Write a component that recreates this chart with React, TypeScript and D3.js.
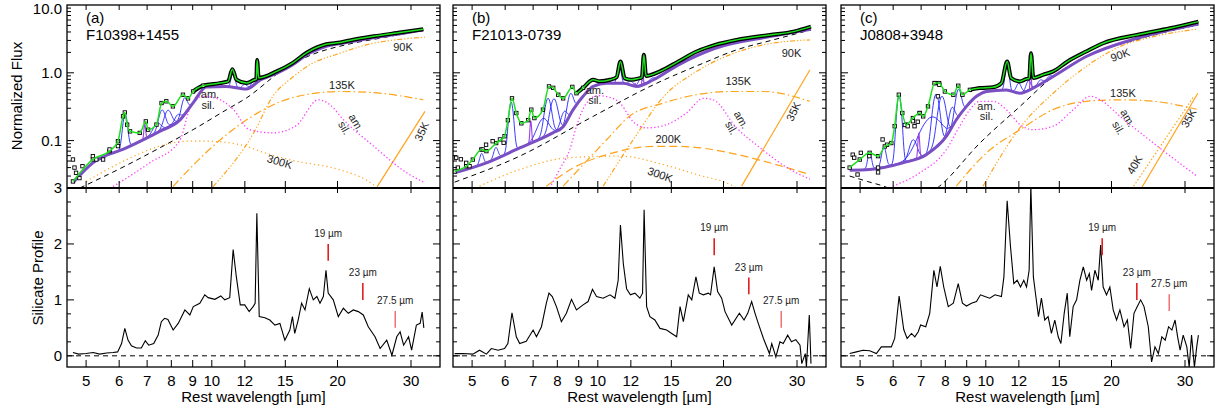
import React from "react";
import * as d3 from "d3";

type Pt = [number, number];
type Pah = [number, number, number]; // centre, fwhm, height above continuum

// ---------- (a) F10398+1455 ----------
const specA: Pt[] = [[4.65,0.025],[5.19,0.053],[5.69,0.07],[5.96,0.098],[6.13,0.228],[6.19,0.26],[6.27,0.172],[6.37,0.137],[6.72,0.13],[6.95,0.192],[7.04,0.145],[7.37,0.172],[7.58,0.358],[7.78,0.38],[8.07,0.32],[8.53,0.475],[8.77,0.42],[9.02,0.53],[9.53,0.644],[10.45,0.705],[10.94,0.745],[11.2,1.13],[11.46,0.79],[12.1,0.705],[12.68,0.79],[12.78,0.8],[12.84,1.55],[12.95,0.84],[14.3,1.05],[15.6,1.39],[16.9,1.99],[18.8,2.64],[20.3,2.8],[21.4,3.0],[24.4,3.45],[28.5,3.95],[32.1,4.4]];
const contA: Pt[] = [[4.65,0.024],[5.19,0.047],[6.24,0.078],[7.5,0.137],[8.38,0.2],[9.02,0.36],[9.7,0.62],[10.8,0.63],[12.1,0.575],[13.1,0.79],[14.3,0.98],[15.6,1.3],[16.9,1.85],[18.8,2.45],[21.4,2.85],[24.4,3.3],[28.5,3.8],[32.1,4.3]];
const dashA: Pt[] = [[4.83,0.02],[6.24,0.043],[7.5,0.078],[9.02,0.145],[10.85,0.286],[12.1,0.425],[14.8,1.1],[17,1.75],[21.0,2.6],[25,3.2],[32.1,4.2]];
const k90A: Pt[] = [[10.07,0.021],[12.6,0.13],[14.0,0.45],[15.7,0.88],[16.9,1.24],[20.3,1.95],[24.4,2.73],[28,3.1],[32.4,3.35]];
const k135A: Pt[] = [[8.07,0.021],[10.26,0.092],[12.8,0.25],[15.4,0.42],[20.3,0.53],[24.4,0.51],[32.1,0.40]];
const k300A: Pt[] = [[5.0,0.025],[6.24,0.052],[7.5,0.083],[8.7,0.098],[9.7,0.098],[11.67,0.087],[13.5,0.065],[15.4,0.052],[20.3,0.037],[23.5,0.026],[25,0.02]];
const k35A: Pt[] = [[24.9,0.021],[32.4,0.27]];
const silA: Pt[] = [[5.8,0.021],[7.1,0.047],[8.38,0.1],[8.85,0.29],[9.53,0.45],[10.26,0.42],[11.25,0.29],[12.3,0.145],[14.0,0.13],[15.9,0.165],[18.0,0.4],[19.5,0.31],[20.3,0.23],[24.4,0.083],[29.3,0.0335],[32.1,0.0245]];
const pahA: Pah[] = [[5.27,0.12,0.006],[5.7,0.15,0.01],[6.2,0.17,0.17],[7.4,0.35,0.05],[7.6,0.3,0.14],[7.85,0.35,0.12],[8.3,0.3,0.05],[8.6,0.3,0.18],[11.25,0.25,0.45],[12.0,0.35,0.1],[12.65,0.35,0.14],[13.5,0.4,0.06]];
const lineA: Pt[] = [[6.91,0.07],[12.81,0.8]];
const scatA: Pt[] = [[4.65,0.0526],[4.69,0.04],[4.73,0.0335],[4.82,0.028],[4.9,0.042],[5.19,0.059],[5.29,0.0526],[5.49,0.0526],[5.69,0.074],[5.96,0.083]];
const profA: Pt[] = [[4.65,0.06],[4.8,0.03],[5.0,0.04],[5.2,0.06],[5.39,0.03],[5.6,0.05],[5.8,0.06],[5.95,0.07],[6.08,0.22],[6.19,0.49],[6.3,0.28],[6.42,0.18],[6.6,0.14],[6.78,0.14],[6.93,0.27],[7.06,0.19],[7.26,0.22],[7.44,0.37],[7.57,0.61],[7.71,0.67],[7.85,0.65],[8.08,0.46],[8.31,0.58],[8.62,0.82],[8.86,0.73],[9.03,0.88],[9.36,0.94],[9.62,1.09],[9.8,1.04],[10.17,1.01],[10.51,1.07],[10.74,1.0],[11.04,1.04],[11.25,1.9],[11.45,1.41],[11.7,0.91],[11.99,0.91],[12.29,0.79],[12.56,0.88],[12.7,0.94],[12.82,2.55],[12.99,0.7],[13.4,0.68],[13.77,0.64],[14.16,0.55],[14.56,0.58],[14.96,0.28],[15.38,0.46],[15.6,0.7],[15.8,0.4],[16.1,0.64],[16.41,0.94],[16.72,0.82],[17.12,1.2],[17.5,1.0],[17.85,1.06],[18.16,0.94],[18.5,1.06],[18.77,1.53],[19.0,1.12],[19.54,1.0],[20.09,0.7],[20.66,0.85],[21.23,0.76],[21.82,0.82],[22.43,0.79],[23.06,0.73],[23.7,0.52],[24.6,0.34],[25.3,0.13],[26.24,0.28],[27.0,0.01],[27.73,0.34],[28.25,0.43],[28.8,0.19],[29.6,0.34],[30.1,0.1],[30.9,0.55],[31.55,0.58],[31.9,0.78],[32.2,0.5]];
const markA: Pt[] = [[19,1.7],[23,1.0],[27.5,0.5]];

// ---------- (b) F21013-0739 ----------
const specB: Pt[] = [[4.54,0.035],[4.84,0.042],[5.02,0.0525],[5.26,0.074],[5.41,0.07],[5.71,0.092],[5.98,0.116],[6.09,0.2],[6.23,0.42],[6.38,0.255],[6.56,0.18],[6.81,0.2],[6.93,0.286],[7.05,0.215],[7.39,0.286],[7.64,0.63],[7.82,0.6],[8.04,0.475],[8.26,0.42],[8.69,0.62],[8.89,0.5],[9.22,0.6],[9.75,0.79],[10.1,0.75],[10.7,0.79],[11.09,0.86],[11.33,1.47],[11.6,0.83],[12.05,0.79],[12.61,0.835],[12.75,0.85],[12.89,1.84],[13.05,0.9],[14.09,1.05],[15.6,1.47],[17.26,2.06],[19.1,2.58],[21.5,3.06],[25.8,3.62],[29.4,4.05],[32.4,4.8]];
const contB: Pt[] = [[4.54,0.0335],[5.41,0.047],[6.5,0.078],[7.8,0.13],[8.26,0.16],[8.73,0.286],[9.22,0.45],[9.75,0.63],[10.5,0.7],[11.5,0.7],[12.4,0.63],[13.6,0.79],[15.6,1.31],[19.1,2.3],[25.8,3.42],[32.4,4.39]];
const dashB: Pt[] = [[4.54,0.0244],[6.5,0.059],[9.75,0.228],[13.6,0.667],[17.9,1.39],[21.5,2.18],[26,3.0],[32.4,4.3]];
const k90B: Pt[] = [[10.3,0.0213],[12.16,0.103],[14.4,0.45],[17.25,1.05],[20.7,1.84],[24.9,2.58],[32.2,3.06]];
const k135B: Pt[] = [[8.26,0.0213],[10.5,0.103],[11.9,0.228],[14.35,0.358],[17.25,0.475],[20.7,0.53],[24.9,0.53],[32.2,0.38]];
const k200B: Pt[] = [[7.53,0.0213],[8.89,0.042],[10.5,0.062],[13.6,0.082],[15.7,0.082],[20.7,0.066],[24.9,0.05],[32.2,0.0316]];
const k300B: Pt[] = [[5.21,0.0213],[6.5,0.0375],[8.55,0.056],[11.3,0.059],[14.6,0.043],[17.25,0.0316],[20.7,0.0226],[21.5,0.02]];
const k35B: Pt[] = [[22.1,0.0213],[32.2,1.1]];
const silB: Pt[] = [[7.67,0.02],[8.1,0.0375],[8.57,0.074],[8.89,0.163],[9.4,0.358],[10.0,0.46],[10.6,0.44],[11.3,0.358],[12.16,0.19],[13.1,0.154],[14.6,0.172],[16.3,0.255],[17.9,0.42],[18.9,0.4],[21.5,0.154],[24.5,0.078],[28.4,0.04],[32.2,0.027]];
const pahB: Pah[] = [[5.27,0.12,0.02],[5.7,0.15,0.025],[6.2,0.17,0.3],[7.4,0.5,0.1],[7.6,0.3,0.3],[7.85,0.35,0.28],[8.3,0.3,0.1],[8.6,0.3,0.25],[11.25,0.25,0.65],[12.0,0.35,0.1],[12.65,0.35,0.15],[13.5,0.4,0.06]];
const lineB: Pt[] = [[6.91,0.1],[12.28,0.06],[12.81,1.0]];
const scatB: Pt[] = [[4.58,0.056],[4.7,0.053],[4.84,0.047],[4.93,0.042],[4.62,0.04],[5.3,0.074],[5.4,0.087],[5.6,0.098],[5.83,0.104],[5.95,0.093]];
const profB: Pt[] = [[4.54,0.04],[4.75,0.04],[5.02,0.03],[5.21,0.1],[5.41,0.03],[5.56,0.13],[5.77,0.1],[5.98,0.13],[6.09,0.22],[6.23,0.77],[6.38,0.34],[6.5,0.22],[6.74,0.26],[7.0,0.46],[7.13,0.34],[7.33,0.52],[7.53,0.94],[7.64,1.12],[7.78,1.06],[7.96,0.88],[8.18,0.61],[8.41,0.76],[8.65,1.01],[8.89,0.82],[9.22,0.91],[9.48,0.97],[9.71,1.19],[9.93,1.06],[10.3,1.03],[10.7,1.09],[10.99,1.03],[11.19,1.35],[11.33,2.34],[11.51,1.65],[11.72,1.2],[11.97,1.09],[12.27,1.12],[12.61,1.03],[12.8,1.12],[12.91,2.61],[13.09,0.88],[13.33,0.7],[13.7,0.64],[14.09,0.49],[14.62,0.46],[15.03,0.4],[15.45,0.34],[15.74,0.88],[16.03,0.61],[16.47,1.09],[16.79,1.0],[17.18,1.41],[17.5,1.12],[17.9,1.09],[18.4,1.12],[18.62,1.09],[19.0,1.59],[19.36,1.15],[19.8,1.03],[20.17,0.79],[20.93,0.55],[21.83,0.76],[22.4,0.64],[22.86,0.76],[23.36,0.97],[23.8,0.76],[24.23,0.58],[24.93,0.31],[25.77,0.04],[26.1,0.22],[26.7,-0.02],[27.3,0.25],[27.8,0.22],[28.5,0.37],[29.1,0.25],[29.8,0.29],[30.5,0.19],[30.8,-0.14],[31.4,0.04],[31.6,-0.2],[32.1,0.73],[32.4,-0.14]];
const markB: Pt[] = [[19,1.8],[23,1.1],[27.5,0.5]];

// ---------- (c) J0808+3948 ----------
const specC: Pt[] = [[4.72,0.04],[4.99,0.0526],[5.27,0.066],[5.52,0.059],[5.73,0.082],[5.94,0.092],[6.05,0.163],[6.19,0.475],[6.31,0.255],[6.45,0.172],[6.69,0.215],[6.95,0.255],[7.08,0.228],[7.27,0.32],[7.55,0.705],[7.73,0.705],[7.98,0.53],[8.36,0.475],[8.59,0.644],[8.79,0.475],[9.16,0.56],[9.68,0.595],[10.4,0.61],[10.9,0.705],[11.25,1.47],[11.5,0.835],[12.08,0.746],[12.5,0.81],[12.7,0.82],[12.83,1.95],[13.0,0.84],[13.7,0.935],[14.5,1.05],[15.7,1.47],[17.4,2.06],[19.1,2.73],[23.0,3.62],[27.6,4.53],[32.3,5.69]];
const contC: Pt[] = [[4.72,0.0366],[5.27,0.0375],[6.33,0.047],[7.2,0.062],[8.05,0.116],[8.5,0.203],[8.99,0.32],[9.5,0.45],[10.04,0.53],[11.2,0.56],[12.08,0.5],[13.2,0.63],[14.5,0.88],[17.4,1.74],[23.0,3.23],[32.3,5.26]];
const dashC: Pt[] = [[4.72,0.03],[5.2,0.025],[5.78,0.0205],[6.7,0.012],[7.75,0.0213],[9.68,0.092],[12.08,0.32],[14.5,0.88],[17.4,1.74],[23,3.1],[32.3,5.1]];
const k90C: Pt[] = [[9.85,0.0213],[12.06,0.154],[14.5,0.5],[17.4,1.24],[20.96,2.44],[25.2,3.42],[32.0,4.39]];
const k135C: Pt[] = [[8.5,0.0213],[10.04,0.066],[12.08,0.145],[14.5,0.286],[17.4,0.38],[20.96,0.4],[25.2,0.38],[32.0,0.29]];
const k35C: Pt[] = [[23.6,0.02],[32.2,0.5]];
const k40C: Pt[] = [[22.6,0.0213],[31.5,0.45]];
const silC: Pt[] = [[5.99,0.0213],[6.95,0.0335],[8.05,0.074],[8.66,0.163],[9.16,0.286],[9.68,0.38],[10.4,0.38],[11.2,0.286],[12.08,0.172],[13.0,0.145],[14.5,0.163],[16.2,0.286],[17.8,0.45],[18.8,0.4],[20.96,0.228],[25.2,0.092],[32.0,0.03]];
const pahC: Pah[] = [[5.27,0.12,0.03],[5.7,0.15,0.04],[6.2,0.17,0.42],[6.7,0.3,0.05],[7.4,0.9,0.15],[7.6,0.3,0.4],[7.85,0.35,0.35],[8.3,0.3,0.15],[8.6,0.3,0.35],[11.25,0.25,0.85],[12.0,0.35,0.2],[12.65,0.35,0.2],[13.5,0.4,0.1],[14.2,0.4,0.08]];
const lineC: Pt[] = [[6.91,0.07],[12.81,1.3]];
const scatC: Pt[] = [[4.8,0.062],[4.84,0.056],[5.02,0.066],[4.93,0.0316],[5.26,0.059],[5.52,0.04],[5.66,0.104],[5.8,0.087],[5.52,0.034],[6.4,0.17],[6.5,0.163],[6.69,0.193],[6.75,0.163],[6.87,0.19],[6.94,0.255],[7.54,0.705],[7.68,0.45],[7.74,0.665]];
const profC: Pt[] = [[4.72,0.04],[4.9,0.07],[5.08,0.1],[5.27,0.09],[5.47,0.04],[5.62,0.16],[5.78,0.16],[5.94,0.16],[6.05,0.31],[6.2,1.07],[6.36,0.47],[6.48,0.31],[6.64,0.4],[6.76,0.34],[6.89,0.43],[6.98,0.55],[7.18,0.52],[7.34,0.76],[7.51,1.53],[7.64,1.23],[7.78,1.6],[7.93,1.23],[8.13,0.88],[8.36,0.94],[8.59,1.29],[8.79,0.94],[8.99,0.89],[9.24,0.94],[9.5,0.97],[9.71,1.09],[9.95,1.06],[10.22,1.03],[10.52,1.09],[10.9,1.06],[11.05,1.41],[11.25,2.77],[11.46,1.95],[11.67,1.29],[11.89,1.35],[12.11,1.23],[12.33,1.35],[12.52,1.23],[12.7,1.53],[12.82,3.05],[13.0,1.41],[13.18,1.06],[13.37,0.7],[13.59,1.03],[13.84,0.64],[14.1,0.7],[14.36,0.4],[14.63,0.64],[14.91,0.34],[15.13,0.22],[15.41,0.76],[15.67,1.12],[15.89,0.34],[16.19,0.88],[16.5,1.0],[16.8,1.35],[17.12,1.59],[17.44,1.35],[17.7,1.47],[17.92,1.17],[18.25,1.53],[18.59,1.35],[18.84,1.98],[19.1,1.23],[19.46,1.09],[19.82,1.23],[20.19,0.82],[20.57,0.64],[20.95,0.82],[21.43,0.52],[21.83,0.64],[22.23,0.13],[22.64,0.76],[23.06,0.88],[23.49,1.0],[23.93,0.88],[24.5,0.52],[24.95,-0.11],[25.42,0.16],[25.9,0.04],[26.4,0.34],[26.9,0.28],[27.4,0.52],[27.9,0.46],[28.4,0.64],[28.8,0.34],[29.2,0.1],[29.7,0.37],[30.3,0.16],[30.7,-0.2],[31.1,0.37],[31.6,-0.2],[32.0,0.16],[32.3,0.37]];
const markC: Pt[] = [[19,1.8],[23,1.0],[27.5,0.8]];

const xTicks = [5, 6, 7, 8, 9, 10, 12, 15, 20, 30];
const fluxTicks = ["10.0", "1.0", "0.1"];
const profTicks = [0, 1, 2, 3];
const markNames = ["19 \u00b5m", "23 \u00b5m", "27.5 \u00b5m"];

const FONT = "'Liberation Sans', Arial, Helvetica, sans-serif";
const PW = 373;
const LEFTS = [67, 453, 841];
const T0 = 5, MID = 188, BOT = 367;
const ORANGE = "#ffa31a";

type Comp = { pts: Pt[]; dash: string | null };
type Lab = { t: string; l: number; f: number; r: number };
type PanelData = {
  tag: string; name: string;
  spec: Pt[]; cont: Pt[]; dash: Pt[]; sil: Pt[]; comps: Comp[];
  pah: Pah[]; lines: Pt[]; scat: Pt[]; prof: Pt[]; marks: Pt[]; labels: Lab[];
};

const D90 = "5,2,1.2,2,1.2,2,1.2,2";
const D135 = "8,3,1.5,3";

const PANELS: PanelData[] = [
  {
    tag: "(a)", name: "F10398+1455", spec: specA, cont: contA, dash: dashA, sil: silA,
    comps: [{ pts: k90A, dash: D90 }, { pts: k135A, dash: D135 }, { pts: k300A, dash: "1.2,3" }, { pts: k35A, dash: null }],
    pah: pahA, lines: lineA, scat: scatA, prof: profA, marks: markA,
    labels: [
      { t: "am.", l: 9.9, f: 0.49, r: 0 }, { t: "sil.", l: 9.8, f: 0.34, r: 0 },
      { t: "90K", l: 28.7, f: 2.41, r: 0 }, { t: "135K", l: 20.5, f: 0.667, r: 0 },
      { t: "300K", l: 14.55, f: 0.049, r: 17 }, { t: "am.", l: 22.2, f: 0.184, r: 60 },
      { t: "sil.", l: 20.8, f: 0.155, r: 60 }, { t: "35K", l: 31.8, f: 0.137, r: -65 },
    ],
  },
  {
    tag: "(b)", name: "F21013-0739", spec: specB, cont: contB, dash: dashB, sil: silB,
    comps: [{ pts: k90B, dash: D90 }, { pts: k135B, dash: D135 }, { pts: k200B, dash: "8,4" }, { pts: k300B, dash: "1.2,3" }, { pts: k35B, dash: null }],
    pah: pahB, lines: lineB, scat: scatB, prof: profB, marks: markB,
    labels: [
      { t: "am.", l: 9.84, f: 0.56, r: 0 }, { t: "sil.", l: 9.84, f: 0.4, r: 0 },
      { t: "90K", l: 29.1, f: 1.95, r: 0 }, { t: "135K", l: 21.7, f: 0.75, r: 0 },
      { t: "200K", l: 14.75, f: 0.104, r: 0 }, { t: "300K", l: 14.1, f: 0.0316, r: 20 },
      { t: "am.", l: 22.1, f: 0.204, r: 60 }, { t: "sil.", l: 20.9, f: 0.154, r: 60 },
      { t: "35K", l: 29.4, f: 0.27, r: -65 },
    ],
  },
  {
    tag: "(c)", name: "J0808+3948", spec: specC, cont: contC, dash: dashC, sil: silC,
    comps: [{ pts: k90C, dash: D90 }, { pts: k135C, dash: D135 }, { pts: k40C, dash: "1.5,2" }, { pts: k35C, dash: null }],
    pah: pahC, lines: lineC, scat: scatC, prof: profC, marks: markC,
    labels: [
      { t: "am.", l: 10.04, f: 0.32, r: 0 }, { t: "sil.", l: 10.04, f: 0.228, r: 0 },
      { t: "90K", l: 20.96, f: 1.84, r: -20 }, { t: "135K", l: 21.3, f: 0.51, r: 0 },
      { t: "am.", l: 21.9, f: 0.215, r: 60 }, { t: "sil.", l: 20.8, f: 0.154, r: 60 },
      { t: "35K", l: 30.6, f: 0.215, r: -60 }, { t: "40K", l: 22.7, f: 0.044, r: -60 },
    ],
  },
];

function Panel({ p, left, idx }: { p: PanelData; left: number; idx: number }) {
  const right = left + PW;
  const x = d3.scaleLog().domain([4.5, 35.2]).range([left, right]);
  const yT = d3.scaleLog().domain([0.02, 10]).range([MID, T0]);
  const yB = d3.scaleLinear().domain([-0.2, 3]).range([BOT, MID]);

  const smooth = d3.line<Pt>().x(d => x(d[0])).y(d => yT(d[1])).curve(d3.curveMonotoneX);
  const straight = d3.line<Pt>().x(d => x(d[0])).y(d => yT(d[1]));
  const profLine = d3.line<Pt>().x(d => x(d[0])).y(d => yB(d[1]));

  // continuum in log-log, used as the baseline of the PAH and line profiles
  const cInt = d3.scaleLog()
    .domain(p.cont.map(d => d[0]))
    .range(p.cont.map(d => Math.log10(d[1])))
    .clamp(true);
  const base = (l: number) => Math.pow(10, cInt(l));
  const profile = (c: number, w: number, a: number): Pt[] =>
    d3.range(-2.4, 2.41, 0.08).map(t => [c + t * w, base(c + t * w) + a * Math.exp(-4 * Math.LN2 * t * t)] as Pt);

  const clipT = `clipT${idx}`;
  const clipB = `clipB${idx}`;
  const band = p.spec.filter(d => d[0] > 8.8);
  const sq = 3.4;

  const yTicksT: { v: number; major: boolean }[] = [];
  [0.01, 0.1, 1].forEach(dec => d3.range(1, 10).forEach(m => {
    const v = dec * m;
    if (v > 0.0199 && v < 10) yTicksT.push({ v, major: m === 1 });
  }));
  const yTicksB = d3.range(-0.0, 3.01, 0.25).map(v => ({ v, len: Math.abs(v - Math.round(v)) < 1e-6 ? 7 : 4 }));

  return (
    <g>
      <defs>
        <clipPath id={clipT}><rect x={left} y={T0} width={PW} height={MID - T0} /></clipPath>
        <clipPath id={clipB}><rect x={left} y={MID} width={PW} height={BOT - MID} /></clipPath>
      </defs>

      {/* top: SED decomposition */}
      <g clipPath={`url(#${clipT})`} fill="none">
        {p.comps.map((c, i) => (
          <path key={i} d={smooth(c.pts) || ""} stroke={ORANGE} strokeWidth={1.2} strokeDasharray={c.dash || undefined} />
        ))}
        <path d={smooth(p.sil) || ""} stroke="#ff3cff" strokeWidth={1.3} strokeDasharray="1.3,2.3" />
        <path d={smooth(p.dash) || ""} stroke="#000" strokeWidth={1} strokeDasharray="5,4" />
        {p.pah.map((f, i) => (
          <path key={i} d={straight(profile(f[0], f[1], f[2])) || ""} stroke="#2222ff" strokeWidth={0.9} />
        ))}
        {p.lines.map((f, i) => (
          <path key={i} d={straight(profile(f[0], 0.07, f[1])) || ""} stroke="#9b3fe0" strokeWidth={1.1} />
        ))}
        <path d={smooth(p.cont) || ""} stroke="#7a4fc4" strokeWidth={3} />
        <path d={smooth(band) || ""} stroke="#000" strokeWidth={4} />
        {[...p.spec.filter(d => d[0] < 9.6), ...p.scat].map((d, i) => (
          <rect key={i} x={x(d[0]) - sq / 2} y={yT(d[1]) - sq / 2} width={sq} height={sq} stroke="#000" strokeWidth={0.9} fill="#fff" />
        ))}
        <path d={smooth(p.spec) || ""} stroke="#1de01d" strokeWidth={1.5} />
      </g>
      {p.labels.map((lb, i) => (
        <text key={i} transform={`translate(${x(lb.l)},${yT(lb.f)}) rotate(${lb.r})`} textAnchor="middle" dominantBaseline="central" fontSize={11} fill="#222">{lb.t}</text>
      ))}
      <text x={left + 19} y={23} fontSize={15}>{p.tag}</text>
      <text x={left + 19} y={40} fontSize={15}>{p.name}</text>

      {/* bottom: silicate profile */}
      <g clipPath={`url(#${clipB})`} fill="none">
        <line x1={left} x2={right} y1={yB(0)} y2={yB(0)} stroke="#000" strokeWidth={1} strokeDasharray="5,4" />
        <path d={profLine(p.prof) || ""} stroke="#000" strokeWidth={1.1} />
      </g>
      {p.marks.map((m, i) => (
        <g key={i}>
          <line x1={x(m[0])} x2={x(m[0])} y1={yB(m[1])} y2={yB(m[1] + 0.3)} stroke={i === 2 ? "#f07070" : "#e01010"} strokeWidth={1.5} />
          <text x={x(m[0])} y={yB(m[1] + 0.3) - 7} textAnchor="middle" fontSize={10} fill="#222">{markNames[i]}</text>
        </g>
      ))}

      {/* ticks */}
      <g stroke="#000" strokeWidth={1}>
        {xTicks.map(t => (
          <g key={t}>
            <line x1={x(t)} x2={x(t)} y1={BOT} y2={BOT - 7} />
            <line x1={x(t)} x2={x(t)} y1={MID} y2={MID + 5} />
            <line x1={x(t)} x2={x(t)} y1={MID} y2={MID - 7} />
            <line x1={x(t)} x2={x(t)} y1={T0} y2={T0 + 5} />
          </g>
        ))}
        {yTicksT.map((t, i) => (
          <g key={i}>
            <line x1={left} x2={left + (t.major ? 7 : 4)} y1={yT(t.v)} y2={yT(t.v)} />
            <line x1={right} x2={right - (t.major ? 7 : 4)} y1={yT(t.v)} y2={yT(t.v)} />
          </g>
        ))}
        {yTicksB.map((t, i) => (
          <g key={i}>
            <line x1={left} x2={left + t.len} y1={yB(t.v)} y2={yB(t.v)} />
            <line x1={right} x2={right - t.len} y1={yB(t.v)} y2={yB(t.v)} />
          </g>
        ))}
      </g>

      {/* frames */}
      <rect x={left} y={T0} width={PW} height={BOT - T0} fill="none" stroke="#000" strokeWidth={1.3} />
      <line x1={left} x2={right} y1={MID} y2={MID} stroke="#000" strokeWidth={2} />

      {/* x tick labels and title */}
      {xTicks.map(t => (
        <text key={t} x={x(t)} y={386} textAnchor="middle" fontSize={15}>{t}</text>
      ))}
      <text x={(left + right) / 2} y={402} textAnchor="middle" fontSize={15}>Rest wavelength [{"\u00b5"}m]</text>

      {idx === 0 && (
        <g fontSize={15} textAnchor="end">
          {fluxTicks.map(s => (
            <text key={s} x={left - 5} y={Math.max(yT(+s), 8.5) + 5.3}>{s}</text>
          ))}
          {profTicks.map(v => (
            <text key={v} x={left - 5} y={yB(v) + 5.3}>{v}</text>
          ))}
        </g>
      )}
    </g>
  );
}

export default function App() {
  return (
    <svg width={1218} height={411} style={{ position: "absolute", left: 0, top: 0, display: "block" }} fontFamily={FONT}>
      <rect width={1218} height={411} fill="#fff" />
      {PANELS.map((p, i) => <Panel key={i} p={p} left={LEFTS[i]} idx={i} />)}
      <text transform="translate(22,96) rotate(-90)" textAnchor="middle" fontSize={15}>Normalized Flux</text>
      <text transform="translate(43,278) rotate(-90)" textAnchor="middle" fontSize={15}>Silicate Profile</text>
    </svg>
  );
}
